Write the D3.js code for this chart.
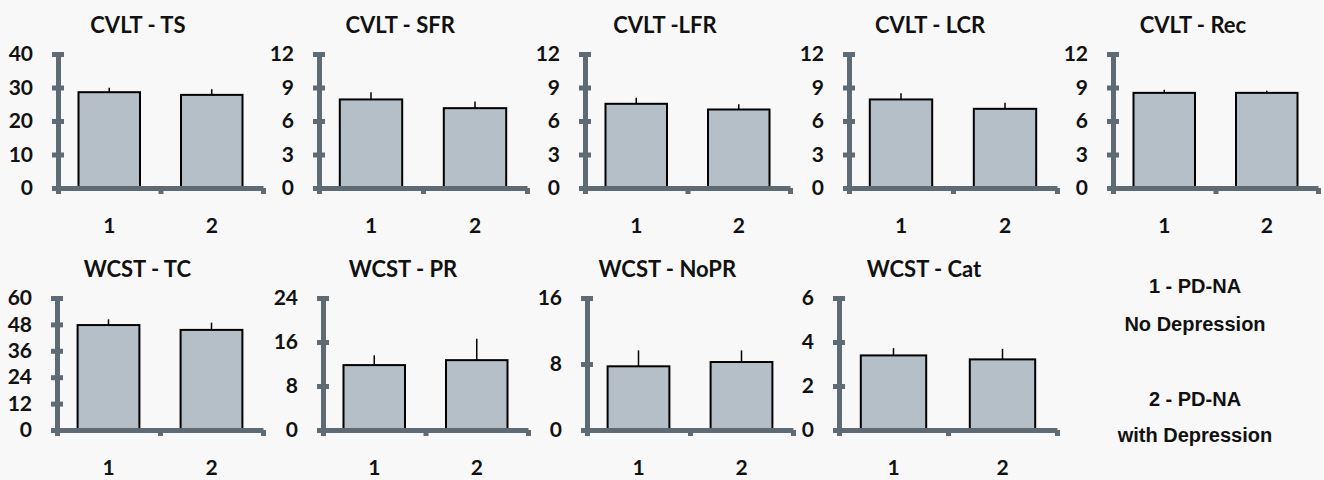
<!DOCTYPE html>
<html>
<head>
<meta charset="utf-8">
<script src="https://cdn.jsdelivr.net/npm/d3@7"></script>
<style>
  body { margin: 0; background: #f8f8f8; }
  svg { display: block; }
  .tick text { font-family: Lato, "Open Sans", sans-serif; font-weight: 700; fill: #111; }
</style>
</head>
<body>
<script>
// data
var groups = ["1", "2"];
var titles = ["CVLT - TS", "CVLT - SFR", "CVLT -LFR", "CVLT - LCR", "CVLT - Rec",
              "WCST - TC", "WCST - PR", "WCST - NoPR", "WCST - Cat"];
var yMax  = [40, 12, 12, 12, 12, 60, 24, 16, 6];
var yStep = [10, 3, 3, 3, 3, 12, 8, 8, 2];
var mean1 = [28.6, 7.93, 7.54, 7.93, 8.52, 47.7, 11.8, 7.72, 3.39];
var err1  = [1.3, 0.65, 0.54, 0.56, 0.27, 2.6, 1.8, 1.93, 0.33];
var mean2 = [27.8, 7.15, 7.03, 7.09, 8.52, 45.5, 12.7, 8.24, 3.21];
var err2  = [1.7, 0.60, 0.48, 0.54, 0.20, 3.3, 3.9, 1.41, 0.48];
var legendLines = ["1 - PD-NA", "No Depression", "2 - PD-NA", "with Depression"];

// panel placement (y axis x, zero line y, axis length, plot height)
var layout = [
  {x: 58,   y: 188, w: 205, h: 134},
  {x: 319,  y: 188, w: 208, h: 134},
  {x: 585,  y: 188, w: 205, h: 134},
  {x: 849,  y: 188, w: 208, h: 134},
  {x: 1113, y: 188, w: 205, h: 134},
  {x: 57,   y: 430, w: 206, h: 132},
  {x: 323,  y: 430, w: 205, h: 132},
  {x: 587,  y: 430, w: 206, h: 132},
  {x: 839,  y: 430, w: 218, h: 132}
];

var axisColor = "#5e6a74";
var barColor = "#b5bfc8";

var svg = d3.select("body").append("svg")
  .attr("width", 1324)
  .attr("height", 480);

function drawPanel(i) {
  var L = layout[i];
  var g = svg.append("g").attr("transform", "translate(" + L.x + "," + L.y + ")");

  var y = d3.scaleLinear().domain([0, yMax[i]]).range([0, -L.h]);
  var x = d3.scaleBand().domain(groups).range([0, L.w]).paddingInner(0.4).paddingOuter(0.2);
  var xEdge = d3.scaleLinear().domain([0, 2]).range([0, L.w]);

  var rows = groups.map(function(k, j) {
    return {g: k, v: j == 0 ? mean1[i] : mean2[i], e: j == 0 ? err1[i] : err2[i]};
  });

  // bars
  g.selectAll("rect.bar")
    .data(rows)
    .enter()
    .append("rect")
      .attr("class", "bar")
      .attr("x", function(d){ return x(d.g); })
      .attr("width", x.bandwidth())
      .attr("y", function(d){ return y(d.v); })
      .attr("height", function(d){ return y(0) - y(d.v); })
      .style("fill", barColor)
      .style("stroke", "#000")
      .style("stroke-width", 2);

  // upper error whiskers, no caps
  g.selectAll("line.err")
    .data(rows)
    .enter()
    .append("line")
      .attr("x1", function(d){ return x(d.g) + x.bandwidth() / 2; })
      .attr("x2", function(d){ return x(d.g) + x.bandwidth() / 2; })
      .attr("y1", function(d){ return y(d.v); })
      .attr("y2", function(d){ return y(d.v + d.e); })
      .style("stroke", "#000")
      .style("stroke-width", 1.5);

  // y axis
  var ya = g.append("g")
    .call(d3.axisLeft(y).tickValues(d3.range(0, yMax[i] + 0.001, yStep[i]))
      .tickFormat(d3.format("d"))
      .tickSizeOuter(0).tickSizeInner(6).tickPadding(19));
  ya.select(".domain").attr("stroke", axisColor).attr("stroke-width", 5);
  ya.selectAll(".tick line").attr("x1", -6).attr("x2", 6)
    .attr("stroke", axisColor).attr("stroke-width", 5);
  ya.selectAll(".tick text").style("font-size", "21px");

  // x axis line with boundary ticks
  var xa = g.append("g")
    .call(d3.axisBottom(xEdge).tickValues([0, 1, 2]).tickFormat("")
      .tickSizeOuter(0).tickSizeInner(6));
  xa.select(".domain").attr("stroke", axisColor).attr("stroke-width", 5);
  xa.selectAll(".tick line").attr("y1", 0).attr("stroke", axisColor).attr("stroke-width", 5);

  // group labels
  var xl = g.append("g")
    .call(d3.axisBottom(x).tickSize(0).tickPadding(30));
  xl.select(".domain").remove();
  xl.selectAll(".tick text").style("font-size", "21px");

  // title
  g.append("text")
    .attr("x", L.w * 0.39)
    .attr("y", -L.h - 21)
    .attr("text-anchor", "middle")
    .style("font-family", "Lato, 'Open Sans', sans-serif")
    .style("font-weight", 700)
    .style("font-size", "22px")
    .style("fill", "#111")
    .text(titles[i]);
}

for (var i = 0; i < titles.length; i++) {
  drawPanel(i);
}

// legend text, bottom right
var legendY = [293, 331, 406, 442];
svg.selectAll("text.legend")
  .data(legendLines)
  .enter()
  .append("text")
    .attr("class", "legend")
    .attr("x", 1195)
    .attr("y", function(d, k){ return legendY[k]; })
    .attr("text-anchor", "middle")
    .style("font-family", "'Liberation Sans', Arial, sans-serif")
    .style("font-weight", 700)
    .style("font-size", "20px")
    .style("fill", "#111")
    .text(function(d){ return d; });
</script>
</body>
</html>
